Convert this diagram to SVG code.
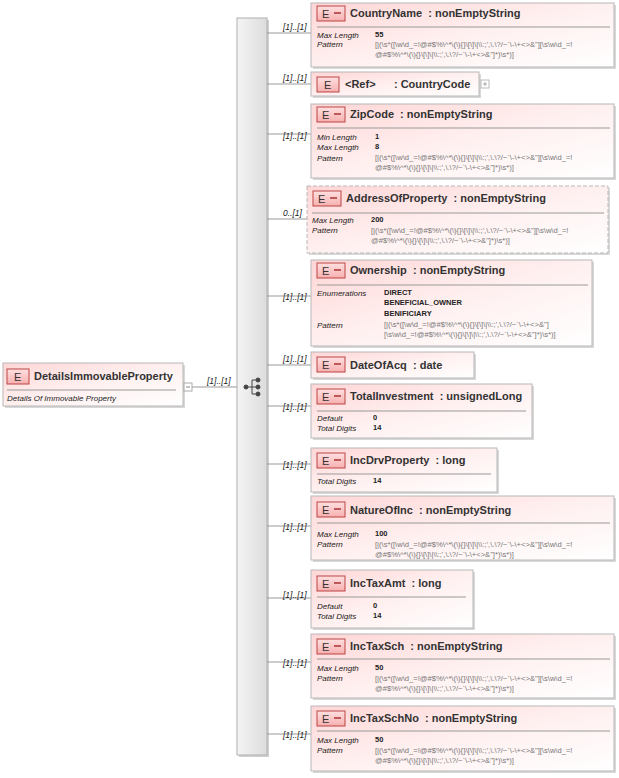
<svg xmlns="http://www.w3.org/2000/svg" width="619" height="778" viewBox="0 0 619 778">
<defs>
<linearGradient id="g" x1="0" y1="0" x2="1" y2="1"><stop offset="0" stop-color="#ffd6d6"/><stop offset="0.5" stop-color="#fff0f0"/><stop offset="1" stop-color="#ffffff"/></linearGradient>
<linearGradient id="bar" x1="0" y1="0" x2="1" y2="0"><stop offset="0" stop-color="#f4f4f4"/><stop offset="1" stop-color="#dcdcdc"/></linearGradient>
<linearGradient id="badge" x1="0" y1="0" x2="0" y2="1"><stop offset="0" stop-color="#ffe0e0"/><stop offset="1" stop-color="#f7b0b0"/></linearGradient>
</defs>
<style>
.box{fill:url(#g);stroke:#b8b8b8;stroke-width:1}
.dash{stroke-dasharray:4,2}
.sh{fill:#d8d8d8}
.bd{fill:url(#badge);stroke:#b44;stroke-width:1}
.be{font:11px "Liberation Sans",Arial,sans-serif;fill:#333}
.nm{font:bold 11px "Liberation Sans",Arial,sans-serif;fill:#333;white-space:pre}
.sep{stroke:#999;stroke-width:1}
.lb{font:italic 8px "Liberation Sans",Arial,sans-serif;fill:#222}
.vl{font:bold 7.5px "Liberation Sans",Arial,sans-serif;fill:#222}
.pt{font:7.6px "Liberation Sans",Arial,sans-serif;fill:#777}
.cn{stroke:#999;stroke-width:1;fill:none}
.ml{font:italic 8.5px "Liberation Sans",Arial,sans-serif;fill:#222}
</style>
<g id="sequence">
<rect x="239" y="20" width="30" height="737" fill="#d0d0d0"/>
<rect x="237" y="18" width="30" height="737" fill="url(#bar)" stroke="#b0b0b0"/>
<g fill="#444" stroke="#444"><circle cx="246" cy="387" r="2"/><line x1="246" y1="387" x2="252" y2="387"/><path d="M252 380V394M252 380H256M252 387H256M252 394H256" fill="none"/><circle cx="258" cy="380" r="2"/><circle cx="258" cy="387" r="2"/><circle cx="258" cy="394" r="2"/></g>
</g>
<g id="connectors">
<path class="cn" d="M192 387H237"/>
<text class="ml" x="207" y="384">[1]..[1]</text>
<path class="cn" d="M267 33H311M267 84H311M267 134H311M267 219H307M267 296H311M267 365H311M267 406H311M267 464H311M267 526H311M267 598H311M267 662H311M267 734H311"/>
<text class="ml" x="283" y="30">[1]..[1]</text>
<text class="ml" x="283" y="81">[1]..[1]</text>
<text class="ml" x="283" y="139">[1]..[1]</text>
<text class="ml" x="283" y="216">0..[1]</text>
<text class="ml" x="283" y="300">[1]..[1]</text>
<text class="ml" x="283" y="362">[1]..[1]</text>
<text class="ml" x="283" y="410">[1]..[1]</text>
<text class="ml" x="283" y="468">[1]..[1]</text>
<text class="ml" x="283" y="530">[1]..[1]</text>
<text class="ml" x="283" y="598">[1]..[1]</text>
<text class="ml" x="283" y="666">[1]..[1]</text>
<text class="ml" x="283" y="738">[1]..[1]</text>
</g>
<g id="DetailsImmovableProperty">
<rect class="sh" x="5" y="365" width="180" height="43"/>
<rect class="box" x="3" y="363" width="180" height="43"/>
<rect class="bd" x="7" y="369" width="22" height="15"/><text class="be" x="14" y="381">E</text>
<text class="nm" x="34" y="380">DetailsImmovableProperty</text>
<line class="sep" x1="7" y1="390" x2="176" y2="390"/>
<text class="lb" x="7" y="401">Details Of Immovable Property</text>
<rect x="184" y="383" width="8" height="8" fill="#fff" stroke="#aaa"/><line x1="186" y1="387" x2="190" y2="387" stroke="#888"/>
</g>
<g id="CountryName">
<rect class="sh" x="313" y="5" width="303" height="64"/>
<rect class="box" x="311" y="3" width="303" height="64"/>
<rect class="bd" x="317" y="6" width="28" height="15"/><text class="be" x="322" y="18">E</text><line x1="334" y1="13" x2="341" y2="13" stroke="#a33" stroke-width="1.5"/>
<text class="nm" x="350" y="17">CountryName  : nonEmptyString</text>
<line class="sep" x1="317" y1="27" x2="610" y2="27"/>
<text class="lb" x="317" y="38">Max Length</text><text class="vl" x="375" y="37">55</text>
<text class="lb" x="317" y="47">Pattern</text>
<text class="pt" x="375" y="47">[|(\s*([\w\d_=!@#$%\^*\(\){}\[\]\|\\:;',\.\?/~`\-\+&lt;&gt;&amp;"][\s\w\d_=!</text>
<text class="pt" x="375" y="57">@#$%\^*\(\){}\[\]\|\\:;',\.\?/~`\-\+&lt;&gt;&amp;"]*)\s*)]</text>
</g>
<g id="CountryCode">
<rect class="sh" x="313" y="74" width="168" height="24"/>
<rect class="box" x="311" y="72" width="168" height="24"/>
<rect class="bd" x="317" y="77" width="22" height="15"/><text class="be" x="324" y="89">E</text>
<text class="nm" x="345" y="88">&lt;Ref&gt;      : CountryCode</text>
<rect x="481" y="80" width="8" height="8" fill="#fff" stroke="#bbb"/><path d="M483 84H487M485 82V86" stroke="#aaa"/>
</g>
<g id="ZipCode">
<rect class="sh" x="313" y="106" width="303" height="74"/>
<rect class="box" x="311" y="104" width="303" height="74"/>
<rect class="bd" x="317" y="107" width="28" height="15"/><text class="be" x="322" y="119">E</text><line x1="334" y1="114" x2="341" y2="114" stroke="#a33" stroke-width="1.5"/>
<text class="nm" x="350" y="118">ZipCode  : nonEmptyString</text>
<line class="sep" x1="317" y1="128" x2="610" y2="128"/>
<text class="lb" x="317" y="140">Min Length</text><text class="vl" x="375" y="139">1</text>
<text class="lb" x="317" y="150">Max Length</text><text class="vl" x="375" y="149">8</text>
<text class="lb" x="317" y="161">Pattern</text>
<text class="pt" x="375" y="160">[|(\s*([\w\d_=!@#$%\^*\(\){}\[\]\|\\:;',\.\?/~`\-\+&lt;&gt;&amp;"][\s\w\d_=!</text>
<text class="pt" x="375" y="170">@#$%\^*\(\){}\[\]\|\\:;',\.\?/~`\-\+&lt;&gt;&amp;"]*)\s*)]</text>
</g>
<g id="AddressOfProperty">
<rect class="sh" x="309" y="188" width="301" height="67"/>
<rect class="box dash" x="307" y="186" width="301" height="67"/>
<rect class="bd" x="313" y="191" width="28" height="15"/><text class="be" x="318" y="203">E</text><line x1="330" y1="198" x2="337" y2="198" stroke="#a33" stroke-width="1.5"/>
<text class="nm" x="346" y="202">AddressOfProperty  : nonEmptyString</text>
<line class="sep" x1="312" y1="213" x2="604" y2="213"/>
<text class="lb" x="312" y="223">Max Length</text><text class="vl" x="371" y="222">200</text>
<text class="lb" x="312" y="233">Pattern</text>
<text class="pt" x="371" y="233">[|(\s*([\w\d_=!@#$%\^*\(\){}\[\]\|\\:;',\.\?/~`\-\+&lt;&gt;&amp;"][\s\w\d_=!</text>
<text class="pt" x="371" y="243">@#$%\^*\(\){}\[\]\|\\:;',\.\?/~`\-\+&lt;&gt;&amp;"]*)\s*)]</text>
</g>
<g id="Ownership">
<rect class="sh" x="313" y="262" width="281" height="86"/>
<rect class="box" x="311" y="260" width="281" height="86"/>
<rect class="bd" x="317" y="263" width="28" height="15"/><text class="be" x="322" y="275">E</text><line x1="334" y1="270" x2="341" y2="270" stroke="#a33" stroke-width="1.5"/>
<text class="nm" x="350" y="274">Ownership  : nonEmptyString</text>
<line class="sep" x1="317" y1="285" x2="588" y2="285"/>
<text class="lb" x="317" y="296">Enumerations</text>
<text class="vl" x="384" y="295">DIRECT</text><text class="vl" x="384" y="305">BENEFICIAL_OWNER</text><text class="vl" x="384" y="316">BENIFICIARY</text>
<text class="lb" x="317" y="328">Pattern</text>
<text class="pt" x="384" y="327">[|(\s*([\w\d_=!@#$%\^*\(\){}\[\]\|\\:;',\.\?/~`\-\+&lt;&gt;&amp;"]</text>
<text class="pt" x="384" y="337">[\s\w\d_=!@#$%\^*\(\){}\[\]\|\\:;',\.\?/~`\-\+&lt;&gt;&amp;"]*)\s*)]</text>
</g>
<g id="DateOfAcq">
<rect class="sh" x="313" y="354" width="163" height="26"/>
<rect class="box" x="311" y="352" width="163" height="26"/>
<rect class="bd" x="317" y="357" width="28" height="15"/><text class="be" x="322" y="369">E</text><line x1="334" y1="364" x2="341" y2="364" stroke="#a33" stroke-width="1.5"/>
<text class="nm" x="350" y="369">DateOfAcq  : date</text>
</g>
<g id="TotalInvestment">
<rect class="sh" x="313" y="386" width="221" height="54"/>
<rect class="box" x="311" y="384" width="221" height="54"/>
<rect class="bd" x="317" y="389" width="28" height="15"/><text class="be" x="322" y="401">E</text><line x1="334" y1="396" x2="341" y2="396" stroke="#a33" stroke-width="1.5"/>
<text class="nm" x="350" y="400">TotalInvestment  : unsignedLong</text>
<line class="sep" x1="317" y1="411" x2="526" y2="411"/>
<text class="lb" x="317" y="421">Default</text><text class="vl" x="373" y="420">0</text>
<text class="lb" x="317" y="431">Total Digits</text><text class="vl" x="373" y="430">14</text>
</g>
<g id="IncDrvProperty">
<rect class="sh" x="313" y="450" width="186" height="44"/>
<rect class="box" x="311" y="448" width="186" height="44"/>
<rect class="bd" x="317" y="453" width="28" height="15"/><text class="be" x="322" y="465">E</text><line x1="334" y1="460" x2="341" y2="460" stroke="#a33" stroke-width="1.5"/>
<text class="nm" x="350" y="464">IncDrvProperty  : long</text>
<line class="sep" x1="317" y1="474" x2="491" y2="474"/>
<text class="lb" x="317" y="484">Total Digits</text><text class="vl" x="373" y="483">14</text>
</g>
<g id="NatureOfInc">
<rect class="sh" x="313" y="498" width="303" height="64"/>
<rect class="box" x="311" y="496" width="303" height="64"/>
<rect class="bd" x="317" y="502" width="28" height="15"/><text class="be" x="322" y="514">E</text><line x1="334" y1="509" x2="341" y2="509" stroke="#a33" stroke-width="1.5"/>
<text class="nm" x="350" y="514">NatureOfInc  : nonEmptyString</text>
<line class="sep" x1="317" y1="523" x2="610" y2="523"/>
<text class="lb" x="317" y="537">Max Length</text><text class="vl" x="375" y="536">100</text>
<text class="lb" x="317" y="547">Pattern</text>
<text class="pt" x="375" y="547">[|(\s*([\w\d_=!@#$%\^*\(\){}\[\]\|\\:;',\.\?/~`\-\+&lt;&gt;&amp;"][\s\w\d_=!</text>
<text class="pt" x="375" y="557">@#$%\^*\(\){}\[\]\|\\:;',\.\?/~`\-\+&lt;&gt;&amp;"]*)\s*)]</text>
</g>
<g id="IncTaxAmt">
<rect class="sh" x="313" y="572" width="162" height="58"/>
<rect class="box" x="311" y="570" width="162" height="58"/>
<rect class="bd" x="317" y="576" width="28" height="15"/><text class="be" x="322" y="588">E</text><line x1="334" y1="583" x2="341" y2="583" stroke="#a33" stroke-width="1.5"/>
<text class="nm" x="350" y="587">IncTaxAmt  : long</text>
<line class="sep" x1="317" y1="597" x2="466" y2="597"/>
<text class="lb" x="317" y="609">Default</text><text class="vl" x="373" y="608">0</text>
<text class="lb" x="317" y="619">Total Digits</text><text class="vl" x="373" y="618">14</text>
</g>
<g id="IncTaxSch">
<rect class="sh" x="313" y="636" width="303" height="64"/>
<rect class="box" x="311" y="634" width="303" height="64"/>
<rect class="bd" x="317" y="639" width="28" height="15"/><text class="be" x="322" y="651">E</text><line x1="334" y1="646" x2="341" y2="646" stroke="#a33" stroke-width="1.5"/>
<text class="nm" x="350" y="650">IncTaxSch  : nonEmptyString</text>
<line class="sep" x1="317" y1="659" x2="610" y2="659"/>
<text class="lb" x="317" y="671">Max Length</text><text class="vl" x="375" y="670">50</text>
<text class="lb" x="317" y="681">Pattern</text>
<text class="pt" x="375" y="681">[|(\s*([\w\d_=!@#$%\^*\(\){}\[\]\|\\:;',\.\?/~`\-\+&lt;&gt;&amp;"][\s\w\d_=!</text>
<text class="pt" x="375" y="691">@#$%\^*\(\){}\[\]\|\\:;',\.\?/~`\-\+&lt;&gt;&amp;"]*)\s*)]</text>
</g>
<g id="IncTaxSchNo">
<rect class="sh" x="313" y="708" width="303" height="65"/>
<rect class="box" x="311" y="706" width="303" height="65"/>
<rect class="bd" x="317" y="711" width="28" height="15"/><text class="be" x="322" y="723">E</text><line x1="334" y1="718" x2="341" y2="718" stroke="#a33" stroke-width="1.5"/>
<text class="nm" x="350" y="722">IncTaxSchNo  : nonEmptyString</text>
<line class="sep" x1="317" y1="731" x2="610" y2="731"/>
<text class="lb" x="317" y="743">Max Length</text><text class="vl" x="375" y="742">50</text>
<text class="lb" x="317" y="753">Pattern</text>
<text class="pt" x="375" y="753">[|(\s*([\w\d_=!@#$%\^*\(\){}\[\]\|\\:;',\.\?/~`\-\+&lt;&gt;&amp;"][\s\w\d_=!</text>
<text class="pt" x="375" y="763">@#$%\^*\(\){}\[\]\|\\:;',\.\?/~`\-\+&lt;&gt;&amp;"]*)\s*)]</text>
</g>
</svg>
